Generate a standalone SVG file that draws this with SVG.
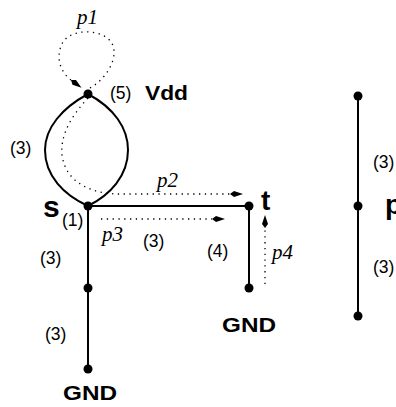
<svg xmlns="http://www.w3.org/2000/svg" width="396" height="407" viewBox="0 0 396 407">
<defs>
<marker id="ah" markerWidth="14" markerHeight="8" refX="0" refY="3.5" orient="auto" markerUnits="userSpaceOnUse">
<path d="M0,3.5 L4,0.5 L13,3.5 L4,6.5 z" fill="#000"/>
</marker>
<style>
.w{fill:none;stroke:#000;stroke-width:2}
.d{fill:none;stroke:#000;stroke-width:1.3;stroke-dasharray:1.3 4.5;marker-end:url(#ah)}
.n{fill:#000}
.l{font-family:"Liberation Sans",Arial,sans-serif;font-size:17.5px;fill:#000}
.b{font-family:"Liberation Sans",Arial,sans-serif;font-weight:bold;fill:#000}
.p{font-family:"Liberation Serif","Times New Roman",serif;font-style:italic;font-size:21px;fill:#000}
</style>
</defs>
<rect width="396" height="407" fill="#fff"/>
<g id="edges">
<path class="w" d="M88,94 C62,108 45,128 45,150 C45,176 64,195 88,206"/>
<path class="w" d="M88,94 C114,108 128,128 128,150 C128,176 110,195 88,206"/>
<path class="w" d="M88,206 L249,206"/>
<path class="w" d="M88,206 L88,369"/>
<path class="w" d="M249,206 L249,288"/>
<path class="w" d="M358,96 L358,316"/>
</g>
<g id="paths">
<path class="d" d="M90,88 C108,78 120,55 111,42 C102,29 72,28 63,42 C55,56 60,72 71,80"/>
<path class="d" d="M88,98 C72,115 60,135 62,155 C66,185 95,194 120,194 L230,194"/>
<path class="d" d="M101,219 L212,219"/>
<path class="d" d="M265,284 L265,228"/>
</g>
<g id="vdd"><circle class="n" cx="88" cy="94" r="4.5"/><text class="l" x="110" y="99">(5)</text><text class="b" x="145" y="100" font-size="21" textLength="43" lengthAdjust="spacingAndGlyphs">Vdd</text></g>
<g id="s"><circle class="n" cx="88" cy="206" r="4.5"/><text class="b" x="43" y="217" font-size="30">s</text><text class="l" x="62" y="226">(1)</text></g>
<g id="mid"><circle class="n" cx="88" cy="288" r="4.5"/></g>
<g id="gnd1"><circle class="n" cx="88" cy="369" r="4.5"/><text class="b" x="63" y="400" font-size="20" textLength="54" lengthAdjust="spacingAndGlyphs">GND</text></g>
<g id="t"><circle class="n" cx="249" cy="206" r="4.5"/><text class="b" x="261" y="210" font-size="28">t</text></g>
<g id="gnd2"><circle class="n" cx="249" cy="288" r="4.5"/><text class="b" x="222" y="332" font-size="20" textLength="54" lengthAdjust="spacingAndGlyphs">GND</text></g>
<g id="r1"><circle class="n" cx="358" cy="96" r="4.5"/></g>
<g id="r2"><circle class="n" cx="358" cy="206" r="4.5"/><text class="b" x="385" y="214" font-size="28">p</text></g>
<g id="r3"><circle class="n" cx="358" cy="316" r="4.5"/></g>
<g id="labels">
<text class="l" x="10" y="154">(3)</text>
<text class="l" x="40" y="264">(3)</text>
<text class="l" x="45" y="340">(3)</text>
<text class="l" x="143" y="247">(3)</text>
<text class="l" x="207" y="257">(4)</text>
<text class="l" x="373" y="168">(3)</text>
<text class="l" x="373" y="273">(3)</text>
<text class="p" x="77" y="24">p1</text>
<text class="p" x="157" y="187">p2</text>
<text class="p" x="102" y="241">p3</text>
<text class="p" x="272" y="259">p4</text>
</g>
</svg>
